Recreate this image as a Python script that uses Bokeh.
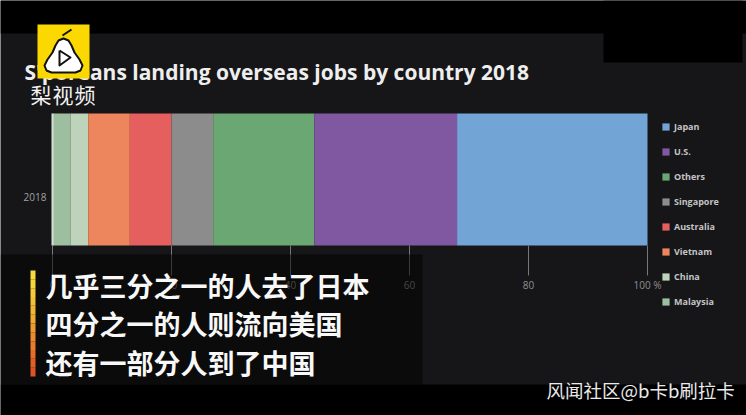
from bokeh.plotting import figure
from bokeh.models import (ColumnDataSource, Range1d, FixedTicker, Label, BoxAnnotation,
                          Legend, LegendItem, LinearAxis)
from bokeh.embed import file_html
from bokeh.resources import INLINE

years = [2018]
countries = ["Malaysia", "China", "Vietnam", "Australia", "Singapore", "Others", "U.S.", "Japan"]
shares = [3, 3, 7, 7, 7, 17, 24, 32]
colors = ["#9dbf9f", "#bdd4bb", "#ee865d", "#e55f5f", "#8c8c8d", "#6aa773", "#8058a2", "#72a5d6"]
x_ticks = [0, 20, 40, 60, 80, 100]
x_tick_labels = ["0", "20", "40", "60", "80", "100 %"]
title_text = "S'poreans landing overseas jobs by country 2018"
brand = "梨视频"
captions = ["几乎三分之一的人去了日本", "四分之一的人则流向美国", "还有一部分人到了中国"]
watermark = "风闻社区@b卡b刷拉卡"

PANEL = "#161618"
W, H = 746, 415
# plot area in window pixels: x 0..100 spans 52..647, the bar spans 113..245
px_x = (647 - 52) / 100
px_y = 245 - 113

p = figure(width=W, height=H, output_backend="svg", toolbar_location=None,
           x_range=Range1d(-52 / px_x, (W - 52) / px_x),
           y_range=Range1d(years[0] - 0.5 - (H - 245) / px_y, years[0] + 0.5 + 113 / px_y),
           x_axis_location=None, y_axis_location=None, min_border=0, outline_line_color=None,
           background_fill_color=PANEL, border_fill_color=PANEL)
p.grid.visible = False

ax = LinearAxis(fixed_location=years[0] - 0.5, ticker=FixedTicker(ticks=x_ticks),
                major_label_overrides=dict(zip(x_ticks, x_tick_labels)), axis_line_color=None,
                major_tick_in=0, major_tick_out=30, major_tick_line_color="#77777a",
                minor_tick_line_color=None, major_label_standoff=2, major_label_text_color="#8f8f92",
                major_label_text_font="Open Sans", major_label_text_font_size="10px")
p.add_layout(ax, "below")

src = ColumnDataSource({"year": years, **{c: [v] for c, v in zip(countries, shares)}})
bars = p.hbar_stack(countries, y="year", height=1, source=src, fill_color=colors, line_color=None)
p.vbar(x=[0], bottom=[years[0] - 0.5], top=[years[0] + 0.5], width=2 / px_x, color="#d5dfd5", line_color=None)

legend = Legend(items=[LegendItem(label=c, renderers=[r]) for c, r in reversed(list(zip(countries, bars)))],
                location=(661, H - 308), orientation="vertical", margin=0, padding=0, spacing=12,
                glyph_width=9, glyph_height=9, label_height=13, label_standoff=4,
                label_text_font="Open Sans", label_text_font_style="bold", label_text_font_size="9px",
                label_text_color="#c4c4c6", background_fill_alpha=0, border_line_color=None)
p.add_layout(legend, "center")


def box(x0, y0, x1, y1, color, alpha=1.0):
    p.add_layout(BoxAnnotation(left=x0, right=x1, top=y0, bottom=y1,
                               left_units="canvas", right_units="canvas", top_units="canvas", bottom_units="canvas",
                               fill_color=color, fill_alpha=alpha, line_color=None, level="annotation", editable=False))


def wx(pts):
    return [(a - 52) / px_x for a, _ in pts]


def wy(pts):
    return [years[0] + 0.5 + (113 - b) / px_y for _, b in pts]


def text(x, y, s, size, color, font, style="normal", align="left", level="overlay"):
    p.add_layout(Label(x=x, y=y, x_units="canvas", y_units="canvas", text=s, text_font_size=size,
                       text_color=color, text_font=font, text_font_style=style, text_align=align,
                       text_baseline="middle", level=level))


box(0, 0, W, 33, "#000000")
box(603, 0, 742, 62, "#000000")
box(0, 384, W, H, "#000000")
box(0, 254, 422, 384, "#000000", 0.5)

text(24, 71, title_text, "21px", "#eeeeee", "Open Sans", "bold", level="annotation")
text(23, 196, str(years[0]), "10px", "#a0a0a0", "Open Sans", level="annotation")

# logo
box(37, 24, 89, 78, "#fbd800")
pear = [(63, 38), (68, 40), (71, 45), (74, 52), (79, 59), (82, 65), (80, 70), (75, 72), (51, 72),
        (46, 70), (44, 65), (47, 59), (52, 52), (55, 45), (58, 40)]
stem = [(62, 35), (71, 29)]
play = [(59, 50), (70, 57), (59, 65), (59, 50)]
p.patch(wx(pear), wy(pear), fill_color="#ffffff", line_color="#111111", line_width=2, line_join="round", level="overlay")
p.line(wx(stem), wy(stem), line_color="#111111", line_width=2, level="overlay")
p.line(wx(play), wy(play), line_color="#111111", line_width=2, line_join="round", level="overlay")
for x, ch in zip([30, 52, 74], brand):
    text(x, 93, ch, "21px", "#f2f2f2", "Noto Sans CJK SC")

# caption bar with yellow to red fade
fade = ["#f5dc3c", "#f4d53a", "#f3cc38", "#f2c236", "#f1b733", "#f0aa31", "#ee9b2e", "#ec8b2b", "#e97b29", "#e66c27", "#e25e26", "#de5326"]
for i, c in enumerate(fade):
    box(30, 270 + i * 106 / len(fade), 35, 270 + (i + 1) * 106 / len(fade), c)
for y, s in zip([285, 323, 362], captions):
    text(45, y, s, "27px", "#f8f8f8", "Noto Sans CJK SC", "bold")

text(546, 389, watermark, "18.5px", "#eaeaea", "Noto Sans CJK SC")

open("out.html", "w").write(file_html(p, INLINE))
